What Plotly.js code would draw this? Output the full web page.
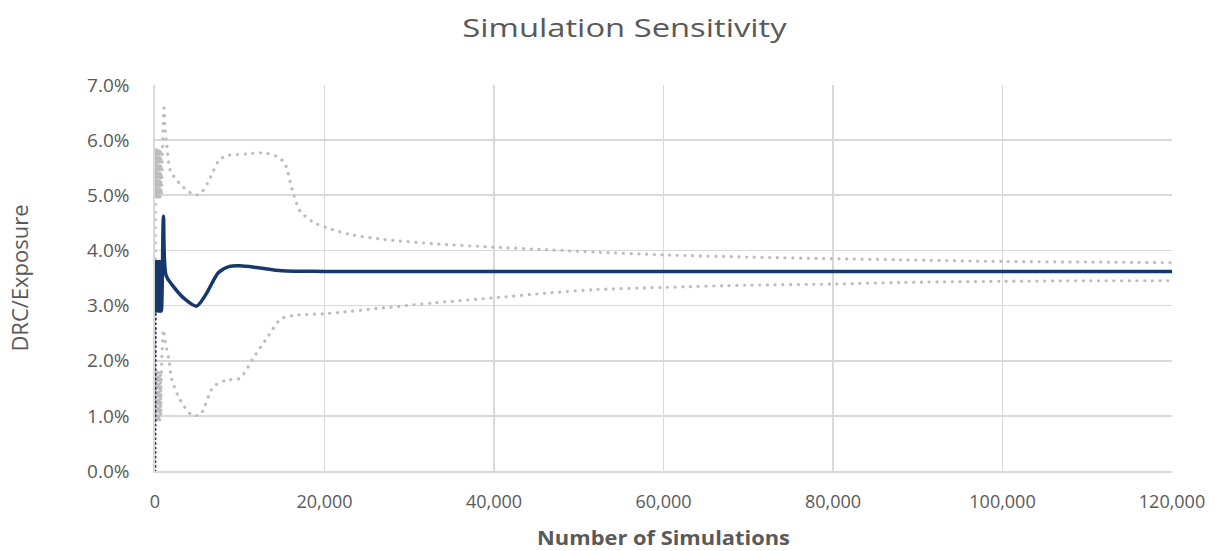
<!DOCTYPE html>
<html>
<head>
<meta charset="utf-8">
<script src="https://cdn.plot.ly/plotly-3.0.1.min.js"></script>
<style>
html,body{margin:0;padding:0;background:#fff;}
#chart{width:1215px;height:551px;}
.scatterlayer .trace.dotted .js-line{stroke-linecap:round !important;}
</style>
</head>
<body>
<div id="chart"></div>
<script>
// Number of simulations (x) and DRC/Exposure (%) values
const mainX = [50,100,150,200,250,300,350,400,450,500,550,600,650,700,750,1000,1300,2000,3500,4900,6000,7500,8800,10000,12000,15000,20000,30000,40000,60000,80000,100000,120000];
const mainY = [3.8,2.9,3.8,2.9,3.78,2.92,3.8,2.9,3.75,2.95,3.8,2.9,3.72,2.92,2.9,4.62,3.55,3.38,3.12,2.99,3.2,3.6,3.71,3.72,3.69,3.63,3.62,3.62,3.62,3.62,3.62,3.62,3.62];

const startX = [0, 40];
const startY = [0, 2.9];

const upperX = [20,60,100,140,180,220,260,300,340,380,420,460,500,540,580,620,660,700,740,1050,1200,1400,1800,3000,4500,5300,6300,7500,8300,10800,12800,14300,15300,16200,17100,18700,20300,23000,27000,33000,40000,46600,52000,60000,70000,80000,88000,100000,110000,120000];
const upperY = [3.85,5.85,4.95,5.85,4.95,5.8,4.95,5.85,5.0,5.8,4.95,5.85,5.0,5.75,4.95,5.8,5.0,5.7,5.0,6.58,6.2,5.9,5.45,5.2,5.02,5.02,5.25,5.62,5.71,5.75,5.77,5.71,5.58,5.1,4.72,4.51,4.41,4.29,4.2,4.12,4.06,4.01,3.97,3.92,3.88,3.85,3.83,3.8,3.79,3.78];

const lowerX = [20,60,100,140,180,220,260,300,340,380,420,460,500,540,580,620,660,700,740,1000,1200,1600,2000,3000,4300,5300,6900,8500,10000,11600,13200,14800,16300,19900,21500,27000,33000,40000,46600,52000,60000,70000,80000,88000,100000,110000,120000];
const lowerY = [2.56,0.9,1.8,0.9,1.78,0.88,1.8,0.92,1.75,0.9,1.8,0.95,1.75,0.9,1.7,1.0,1.75,1.0,1.7,2.56,2.35,2.05,1.65,1.28,1.02,1.02,1.53,1.65,1.68,2.05,2.41,2.75,2.82,2.85,2.87,2.96,3.05,3.14,3.23,3.29,3.33,3.37,3.39,3.42,3.44,3.45,3.45];

const xTicks = [0,20000,40000,60000,80000,100000,120000];
const yTicks = [0,1,2,3,4,5,6,7];
const yTickLabels = ['0.0%','1.0%','2.0%','3.0%','4.0%','5.0%','6.0%','7.0%'];

const navy = '#17386a';
const grey = '#bdbdbd';
const txt = '#595959';
const font = 'Open Sans, Noto Sans, sans-serif';

const traces = [
  {x: upperX, y: upperY, mode:'lines', line:{color:grey, width:3.2, dash:'0.1px,7.6px', shape:'spline', smoothing:0.8}, hoverinfo:'skip'},
  {x: lowerX, y: lowerY, mode:'lines', line:{color:grey, width:3.2, dash:'0.1px,7.6px', shape:'spline', smoothing:0.8}, hoverinfo:'skip'},
  {x: startX, y: startY, mode:'lines', line:{color:navy, width:3, dash:'0.1px,4.5px'}, hoverinfo:'skip'},
  {x: mainX, y: mainY, mode:'lines', line:{color:navy, width:3.5, shape:'spline', smoothing:0.8}}
];

const layout = {
  width:1215, height:551,
  margin:{l:155, r:43, t:85, b:80},
  paper_bgcolor:'#fff', plot_bgcolor:'#fff',
  showlegend:false,
  title:{text:'Simulation Sensitivity', x:0.514, xanchor:'center', y:0.95, yanchor:'middle', font:{family:font, size:26, color:txt}},
  xaxis:{range:[0,120000], tickvals:xTicks, tickformat:',', showgrid:true, gridcolor:'#d9d9d9', gridwidth:1.7,
    showline:true, linecolor:'#d9d9d9', linewidth:1.7, zeroline:false, ticks:'', ticklabelstandoff:14,
    tickfont:{family:font, size:18, color:txt},
    title:{text:'<b>Number of Simulations</b>', font:{family:font, size:19, color:txt}, standoff:25}},
  yaxis:{range:[0,7], tickvals:yTicks, ticktext:yTickLabels, showgrid:true, gridcolor:'#d9d9d9', gridwidth:1.7,
    showline:true, linecolor:'#d9d9d9', linewidth:1.7, zeroline:false, ticks:'', ticklabelstandoff:20,
    tickfont:{family:font, size:19, color:txt},
    title:{text:'DRC/Exposure', font:{family:font, size:22, color:txt}, standoff:52}}
};

function stretch(sel, s){
  document.querySelectorAll(sel).forEach(function(el){
    const x = parseFloat(el.getAttribute('x')) || 0;
    const prev = el.getAttribute('transform') || '';
    el.setAttribute('transform', (prev + ' translate(' + (x*(1-s)) + ',0) scale(' + s + ',1)').trim());
  });
}

Plotly.newPlot('chart', traces, layout, {displayModeBar:false, staticPlot:true}).then(function(){
  document.querySelectorAll('.scatterlayer .trace').forEach(function(t, i){
    if (i < 3) t.classList.add('dotted');
  });
  stretch('text.gtitle', 1.26);
  stretch('text.xtitle', 1.15);
});
</script>
</body>
</html>
